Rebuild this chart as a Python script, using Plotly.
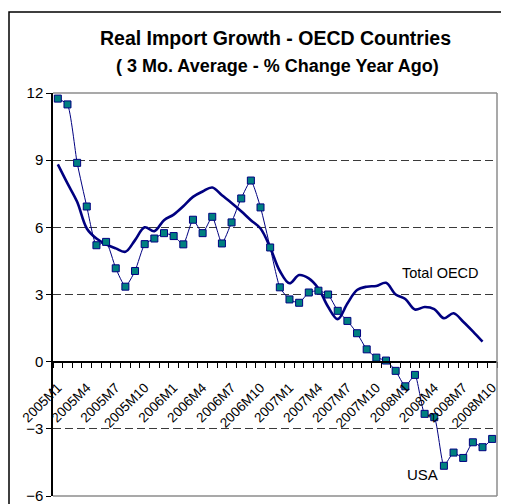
import plotly.graph_objects as go

years = [2005, 2006, 2007, 2008]
months = [f"{y}M{m}" for y in years for m in range(1, 13)][:46]  # 2005M1 .. 2008M10

usa = [11.75, 11.49, 8.88, 6.93, 5.2, 5.35, 4.17, 3.35, 4.05, 5.25,
       5.5, 5.74, 5.61, 5.24, 6.34, 5.74, 6.47, 5.28, 6.22, 7.29,
       8.09, 6.89, 5.1, 3.32, 2.78, 2.63, 3.09, 3.17, 3.0, 2.27,
       1.82, 1.27, 0.55, 0.18, 0.05, -0.41, -1.1, -0.59, -2.33, -2.48,
       -4.65, -4.06, -4.3, -3.6, -3.82, -3.45]

oecd = [8.81, 7.96, 7.14, 5.95, 5.5, 5.24, 5.06, 4.91, 5.43, 6.0,
        5.83, 6.32, 6.57, 6.94, 7.36, 7.6, 7.78, 7.43, 7.09, 6.72,
        6.32, 5.95, 5.1, 4.05, 3.5, 3.87, 3.72, 3.27, 2.45, 1.9,
        2.6, 3.2, 3.35, 3.38, 3.52, 3.0, 2.8, 2.33, 2.44, 2.35,
        1.94, 2.16, 1.78, 1.35, 0.89]

label_every = 3
y_ticks = [-6, -3, 0, 3, 6, 9, 12]

FONT = "Liberation Sans, Arial, sans-serif"
NAVY = "#000080"
TEAL = "#008080"

idx_usa = list(range(len(usa)))
idx_oecd = list(range(len(oecd)))

fig = go.Figure()
fig.add_trace(go.Scatter(
    x=idx_oecd, y=oecd, mode="lines", name="Total OECD",
    line=dict(color=NAVY, width=2.6, shape="spline", smoothing=1.0),
    hoverinfo="skip"))
fig.add_trace(go.Scatter(
    x=idx_usa, y=usa, mode="lines+markers", name="USA",
    line=dict(color=NAVY, width=1, shape="spline", smoothing=0.5),
    marker=dict(symbol="square", size=7, color=TEAL,
                line=dict(color=NAVY, width=1)),
    hoverinfo="skip"))

tickvals = [i for i in range(len(months)) if i % label_every == 0]
ticktext = [months[i] for i in tickvals]

# The page body adds an 8px offset, so margins are shifted by 8px.
PLOT_L, PLOT_T, PLOT_W, PLOT_H = 45, 85, 444, 403

def px(xp):  # page pixel -> paper x
    return (xp - 8 - PLOT_L) / PLOT_W

def py(yp):  # page pixel -> paper y
    return (PLOT_T + PLOT_H - (yp - 8)) / PLOT_H

fig.update_layout(
    width=509, height=504,
    margin=dict(l=PLOT_L, r=509 - PLOT_L - PLOT_W, t=PLOT_T, b=504 - PLOT_T - PLOT_H),
    paper_bgcolor="white", plot_bgcolor="white",
    showlegend=False,
    font=dict(family=FONT, color="black"),
    xaxis=dict(
        range=[-0.5, len(months) - 0.5],
        tickmode="array", tickvals=tickvals, ticktext=ticktext,
        tickangle=-45, ticks="", showgrid=False, zeroline=False,
        showline=True, linecolor="black", linewidth=1.5,
        anchor="free", position=(0 - y_ticks[0]) / (y_ticks[-1] - y_ticks[0]),
        tickfont=dict(size=13.5, family=FONT),
        ticklabelstandoff=12,
        automargin=False,
        minor=dict(ticks="outside", tick0=0.5, dtick=1, ticklen=6,
                   tickcolor="black", tickwidth=1, showgrid=False),
    ),
    yaxis=dict(
        range=[y_ticks[0], y_ticks[-1]],
        tickmode="array", tickvals=y_ticks,
        ticks="outside", ticklen=5, tickcolor="black",
        showline=True, linecolor="black", linewidth=1.5,
        showgrid=True, gridcolor="#3a3a3a", griddash="8px,4px", gridwidth=1,
        zeroline=False, automargin=False,
        tickfont=dict(size=15, family=FONT),
    ),
    annotations=[
        dict(text="<b>Real Import Growth - OECD Countries</b>", xref="paper", yref="paper",
             x=px(275.5), y=py(37.5), xanchor="center", yanchor="middle", showarrow=False,
             font=dict(size=19.5, family=FONT)),
        dict(text="<b>( 3 Mo. Average - % Change Year Ago)</b>", xref="paper", yref="paper",
             x=px(277), y=py(65.5), xanchor="center", yanchor="middle", showarrow=False,
             font=dict(size=18, family=FONT)),
        dict(text="Total OECD", x=39.65, y=3.98, xref="x", yref="y",
             xanchor="center", yanchor="middle", showarrow=False,
             font=dict(size=14.5, family=FONT)),
        dict(text="USA", x=37.8, y=-5.05, xref="x", yref="y",
             xanchor="center", yanchor="middle", showarrow=False,
             font=dict(size=15, family=FONT)),
    ],
    shapes=[
        # outer chart frame (extends past the picture on the right and bottom)
        dict(type="rect", xref="paper", yref="paper",
             x0=px(9), x1=1.2, y0=-0.2, y1=py(12),
             line=dict(color="black", width=1.5), layer="below"),
        # plot area border (top, right, bottom)
        dict(type="line", xref="paper", yref="paper", x0=0, x1=1, y0=1, y1=1,
             line=dict(color="#8c8c8c", width=1.5)),
        dict(type="line", xref="paper", yref="paper", x0=1, x1=1, y0=0, y1=1,
             line=dict(color="#8c8c8c", width=1.5)),
        dict(type="line", xref="paper", yref="paper", x0=0, x1=1, y0=0, y1=0,
             line=dict(color="#8c8c8c", width=1.5)),
    ],
)

fig.write_html("out.html")
